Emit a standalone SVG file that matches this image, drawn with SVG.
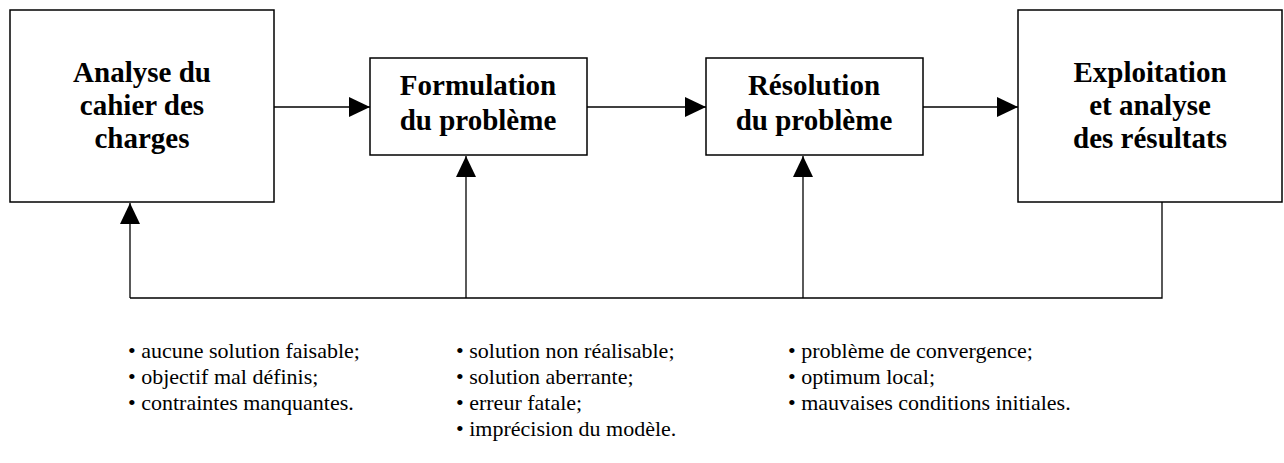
<svg xmlns="http://www.w3.org/2000/svg" width="1284" height="463" viewBox="0 0 1284 463">
<style>
.box{fill:#fff;stroke:#000;stroke-width:1.5}
.c{fill:none;stroke:#000;stroke-width:1.3}
</style>
<defs>
<marker id="ah" markerWidth="21" markerHeight="20" refX="21" refY="10" orient="auto" markerUnits="userSpaceOnUse">
<path d="M0,0 L21,10 L0,20 Z" fill="#000"/>
</marker>
</defs>
<rect width="1284" height="463" fill="#fff"/>
<g id="n1" text-anchor="middle">
<rect class="box" x="10" y="10" width="264" height="192"/>
<text style="font-family:'Liberation Serif',serif;font-weight:bold;font-size:29px" x="142" y="82">Analyse du</text>
<text style="font-family:'Liberation Serif',serif;font-weight:bold;font-size:29px" x="142" y="115">cahier des</text>
<text style="font-family:'Liberation Serif',serif;font-weight:bold;font-size:29px" x="142" y="148">charges</text>
</g>
<g id="n2" text-anchor="middle">
<rect class="box" x="370" y="58" width="217" height="97"/>
<text style="font-family:'Liberation Serif',serif;font-weight:bold;font-size:29px" x="478" y="95">Formulation</text>
<text style="font-family:'Liberation Serif',serif;font-weight:bold;font-size:29px" x="478" y="130">du problème</text>
</g>
<g id="n3" text-anchor="middle">
<rect class="box" x="706" y="58" width="217" height="97"/>
<text style="font-family:'Liberation Serif',serif;font-weight:bold;font-size:29px" x="814" y="95">Résolution</text>
<text style="font-family:'Liberation Serif',serif;font-weight:bold;font-size:29px" x="814" y="130">du problème</text>
</g>
<g id="n4" text-anchor="middle">
<rect class="box" x="1018" y="10" width="264" height="192"/>
<text style="font-family:'Liberation Serif',serif;font-weight:bold;font-size:29px" x="1150" y="82">Exploitation</text>
<text style="font-family:'Liberation Serif',serif;font-weight:bold;font-size:29px" x="1150" y="115">et analyse</text>
<text style="font-family:'Liberation Serif',serif;font-weight:bold;font-size:29px" x="1150" y="148">des résultats</text>
</g>
<g id="connectors">
<line class="c" x1="274" y1="107" x2="370" y2="107" marker-end="url(#ah)"/>
<line class="c" x1="587" y1="107" x2="706" y2="107" marker-end="url(#ah)"/>
<line class="c" x1="923" y1="107" x2="1018" y2="107" marker-end="url(#ah)"/>
<polyline class="c" points="1162,202 1162,298 130,298"/>
<line class="c" x1="130" y1="298" x2="130" y2="203" marker-end="url(#ah)"/>
<line class="c" x1="466" y1="298" x2="466" y2="156" marker-end="url(#ah)"/>
<line class="c" x1="803" y1="298" x2="803" y2="156" marker-end="url(#ah)"/>
</g>
<g id="notes">
<text style="font-family:'Liberation Serif',serif;font-size:22px" x="128" y="358">• aucune solution faisable;</text>
<text style="font-family:'Liberation Serif',serif;font-size:22px" x="128" y="384">• objectif mal définis;</text>
<text style="font-family:'Liberation Serif',serif;font-size:22px" x="128" y="410">• contraintes manquantes.</text>
<text style="font-family:'Liberation Serif',serif;font-size:22px" x="456" y="358">• solution non réalisable;</text>
<text style="font-family:'Liberation Serif',serif;font-size:22px" x="456" y="384">• solution aberrante;</text>
<text style="font-family:'Liberation Serif',serif;font-size:22px" x="456" y="410">• erreur fatale;</text>
<text style="font-family:'Liberation Serif',serif;font-size:22px" x="456" y="436">• imprécision du modèle.</text>
<text style="font-family:'Liberation Serif',serif;font-size:22px" x="788" y="358">• problème de convergence;</text>
<text style="font-family:'Liberation Serif',serif;font-size:22px" x="788" y="384">• optimum local;</text>
<text style="font-family:'Liberation Serif',serif;font-size:22px" x="788" y="410">• mauvaises conditions initiales.</text>
</g>
</svg>
